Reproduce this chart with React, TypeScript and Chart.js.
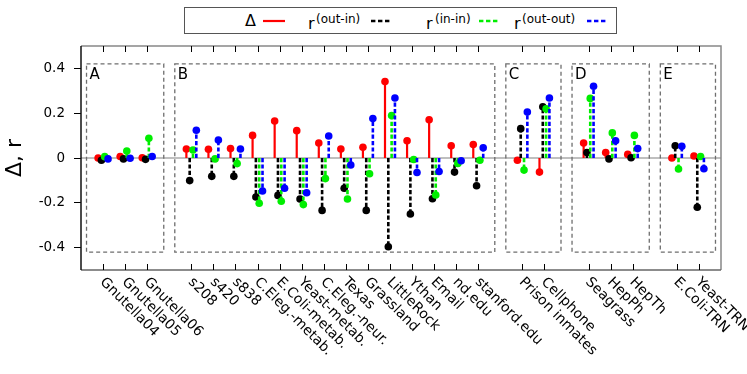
import React, { useEffect, useRef } from 'react';
import { Chart, registerables } from 'chart.js';

Chart.register(...registerables);

// ---------- data ----------
const categories = [
  'Gnutella04', 'Gnutella05', 'Gnutella06',
  's208', 's420', 's838', 'C.Eleg.-metab.', 'E.Coli-metab.', 'Yeast-metab.', 'C.Eleg.-neur.',
  'Texas', 'Grassland', 'LittleRock', 'Ythan', 'Email', 'nd.edu', 'stanford.edu',
  'Prison inmates', 'Cellphone',
  'Seagrass', 'HepPh', 'HepTh',
  'E.Coli-TRN', 'Yeast-TRN',
];
const groupLabels = ['A', 'B', 'C', 'D', 'E'];
const groupSizes = [3, 14, 2, 3, 2];

const delta = [0.000, 0.007, 0.001, 0.040, 0.039, 0.042, 0.101, 0.165, 0.122, 0.067, 0.040, 0.048, 0.341, 0.077, 0.171, 0.055, 0.060, -0.010, -0.063, 0.067, 0.024, 0.016, 0.000, 0.009];
const rOutIn = [-0.010, -0.004, -0.006, -0.101, -0.082, -0.082, -0.174, -0.167, -0.183, -0.234, -0.135, -0.234, -0.396, -0.250, -0.182, -0.063, -0.124, 0.131, 0.229, 0.024, -0.004, 0.001, 0.055, -0.220];
const rInIn = [0.006, 0.031, 0.088, 0.036, -0.004, -0.025, -0.202, -0.193, -0.208, -0.092, -0.183, -0.070, 0.190, -0.007, -0.165, -0.024, -0.010, -0.054, 0.220, 0.266, 0.112, 0.101, -0.049, 0.007];
const rOutOut = [-0.004, -0.001, 0.007, 0.124, 0.080, 0.040, -0.147, -0.135, -0.155, 0.098, -0.031, 0.176, 0.268, -0.065, -0.060, -0.012, 0.046, 0.205, 0.268, 0.320, 0.077, 0.042, 0.052, -0.048];

const yTicks = [-0.4, -0.2, 0, 0.2, 0.4];

// ---------- styling constants ----------
const FONT = "'DejaVu Sans', Verdana, sans-serif";
const BOX_HALF = 0.42;
const BOX_PAD = 0.75;
const OFFSETS = [-0.225, -0.075, 0.075, 0.225];
const COLORS = ['#ff0000', '#000000', '#00ee00', '#0000ff'];

function layoutGroups() {
  const pos: number[] = [];
  const spans: [number, number][] = [];
  let x = 1;
  groupSizes.forEach((n) => {
    spans.push([x, x + n - 1]);
    for (let i = 0; i < n; i++) pos.push(x + i);
    x += n + 1;
  });
  return { pos, spans, xMax: x - 1 };
}

function stemData(values: number[], pos: number[], off: number) {
  const out: { x: number; y: number | null }[] = [];
  values.forEach((v, i) => {
    const xv = pos[i] + off;
    out.push({ x: xv, y: 0 });
    out.push({ x: xv, y: v });
    out.push({ x: xv, y: null });
  });
  return out;
}

export default function App() {
  const ref = useRef<HTMLCanvasElement | null>(null);

  useEffect(() => {
    const { pos, spans, xMax } = layoutGroups();
    const series = [delta, rOutIn, rInIn, rOutOut];

    const datasets = series.map((vals, si) => ({
      label: String(si),
      data: stemData(vals, pos, OFFSETS[si]),
      showLine: true,
      spanGaps: false,
      borderColor: COLORS[si],
      backgroundColor: COLORS[si],
      borderWidth: si === 0 ? 2.2 : 2.6,
      borderDash: si === 0 ? [] : [4.2, 2.2],
      pointRadius: (c: any) => (c.dataIndex % 3 === 1 ? 3.8 : 0),
      pointBackgroundColor: COLORS[si],
      pointBorderWidth: 0,
      pointHoverRadius: 0,
      order: 3 - si,
      clip: false as any,
    }));

    const decor = {
      id: 'decor',
      beforeDatasetsDraw(chart: any) {
        const { ctx, chartArea: a, scales } = chart;
        const x = scales.x, y = scales.y;
        ctx.save();
        const y0 = y.getPixelForValue(0);
        ctx.strokeStyle = '#808080';
        ctx.lineWidth = 1.2;
        ctx.beginPath();
        ctx.moveTo(a.left, y0);
        ctx.lineTo(a.right, y0);
        ctx.stroke();

        ctx.setLineDash([4, 3]);
        ctx.strokeStyle = '#6e6e6e';
        ctx.lineWidth = 1.3;
        ctx.font = `15px ${FONT}`;
        ctx.fillStyle = '#000';
        ctx.textAlign = 'left';
        ctx.textBaseline = 'top';
        spans.forEach(([s, e], gi) => {
          const l = x.getPixelForValue(s - BOX_PAD);
          const r = x.getPixelForValue(e + BOX_PAD);
          const t = y.getPixelForValue(BOX_HALF);
          const b = y.getPixelForValue(-BOX_HALF);
          ctx.strokeRect(l, t, r - l, b - t);
          ctx.fillText(groupLabels[gi], l + 3, t + 4);
        });
        ctx.restore();
      },
      afterDraw(chart: any) {
        const { ctx, chartArea: a, scales } = chart;
        const x = scales.x;
        ctx.save();
        ctx.setLineDash([]);
        // frame
        ctx.lineWidth = 1.5;
        ctx.strokeStyle = '#888';
        ctx.beginPath();
        ctx.moveTo(a.left, a.top);
        ctx.lineTo(a.right, a.top);
        ctx.lineTo(a.right, a.bottom);
        ctx.stroke();
        ctx.strokeStyle = '#666';
        ctx.beginPath();
        ctx.moveTo(a.left, a.bottom);
        ctx.lineTo(a.right, a.bottom);
        ctx.stroke();
        ctx.strokeStyle = '#111';
        ctx.beginPath();
        ctx.moveTo(a.left, a.top);
        ctx.lineTo(a.left, a.bottom);
        ctx.stroke();
        // x ticks (inside, top and bottom)
        ctx.lineWidth = 1;
        ctx.strokeStyle = '#000';
        pos.forEach((p) => {
          const px = Math.round(x.getPixelForValue(p)) + 0.5;
          ctx.beginPath();
          ctx.moveTo(px, a.bottom);
          ctx.lineTo(px, a.bottom - 6);
          ctx.moveTo(px, a.top);
          ctx.lineTo(px, a.top + 6);
          ctx.stroke();
        });
        // x labels rotated 45deg
        ctx.font = `14px ${FONT}`;
        ctx.fillStyle = '#000';
        ctx.textAlign = 'left';
        ctx.textBaseline = 'middle';
        categories.forEach((c, i) => {
          const px = x.getPixelForValue(pos[i]);
          ctx.save();
          ctx.translate(px - 1, a.bottom + 10);
          ctx.rotate(Math.PI / 4);
          ctx.fillText(c, 0, 0);
          ctx.restore();
        });
        ctx.restore();
      },
    };

    Chart.defaults.font.family = FONT;

    const chart = new Chart(ref.current as HTMLCanvasElement, {
      type: 'scatter',
      data: { datasets: datasets as any },
      options: {
        animation: false,
        responsive: false,
        devicePixelRatio: 1,
        layout: { padding: { top: 46, right: 26, bottom: 104, left: 0 } },
        plugins: { legend: { display: false }, tooltip: { enabled: false } },
        events: [],
        scales: {
          x: { type: 'linear', min: 0, max: xMax, display: false },
          y: {
            type: 'linear',
            min: -0.5,
            max: 0.5,
            afterBuildTicks: (s: any) => {
              s.ticks = yTicks.map((v) => ({ value: v }));
            },
            afterFit: (s: any) => {
              s.width = 81;
            },
            grid: { drawOnChartArea: false, drawTicks: true, tickLength: 7, color: '#000', lineWidth: 1 },
            border: { display: false },
            ticks: {
              color: '#000',
              font: { size: 13.5, family: FONT },
              padding: 9,
              callback: (v: any) => String(v),
            },
            title: {
              display: true,
              text: 'Δ, r',
              color: '#000',
              font: { size: 22, family: FONT },
              padding: 2,
            },
          },
        },
      },
      plugins: [decor],
    } as any);

    return () => chart.destroy();
  }, []);

  const sup = { fontSize: 12, position: 'absolute' as const, lineHeight: '12px', whiteSpace: 'nowrap' as const };
  const main = { fontSize: 16, position: 'absolute' as const, lineHeight: '16px', whiteSpace: 'nowrap' as const };

  const dash = (left: number, color: string, dashed: boolean) => (
    <svg style={{ position: 'absolute', left, top: 17, width: 22, height: 8 }} width={22} height={8}>
      <line
        x1={0}
        y1={4}
        x2={dashed ? 19 : 22}
        y2={4}
        stroke={color}
        strokeWidth={dashed ? 2.6 : 2.2}
        strokeDasharray={dashed ? '4.4 2.6' : undefined}
      />
    </svg>
  );

  return (
    <div style={{ position: 'fixed', left: 0, top: 0, width: 747, height: 374, background: '#fff', fontFamily: FONT, color: '#000' }}>
      <canvas ref={ref} width={747} height={374} style={{ display: 'block', width: 747, height: 374 }} />
      <div style={{ position: 'absolute', left: 184, top: 7, width: 433, height: 27, border: '1.5px solid #555', boxSizing: 'border-box', background: '#fff' }} />
      <span style={{ ...main, left: 245, top: 13 }}>Δ</span>
      {dash(263, COLORS[0], false)}
      <span style={{ ...main, left: 308, top: 16 }}>r</span>
      <span style={{ ...sup, left: 316, top: 13 }}>(out-in)</span>
      {dash(371, COLORS[1], true)}
      <span style={{ ...main, left: 426, top: 16 }}>r</span>
      <span style={{ ...sup, left: 435, top: 13 }}>(in-in)</span>
      {dash(479, COLORS[2], true)}
      <span style={{ ...main, left: 514, top: 16 }}>r</span>
      <span style={{ ...sup, left: 522, top: 13 }}>(out-out)</span>
      {dash(587, COLORS[3], true)}
    </div>
  );
}
